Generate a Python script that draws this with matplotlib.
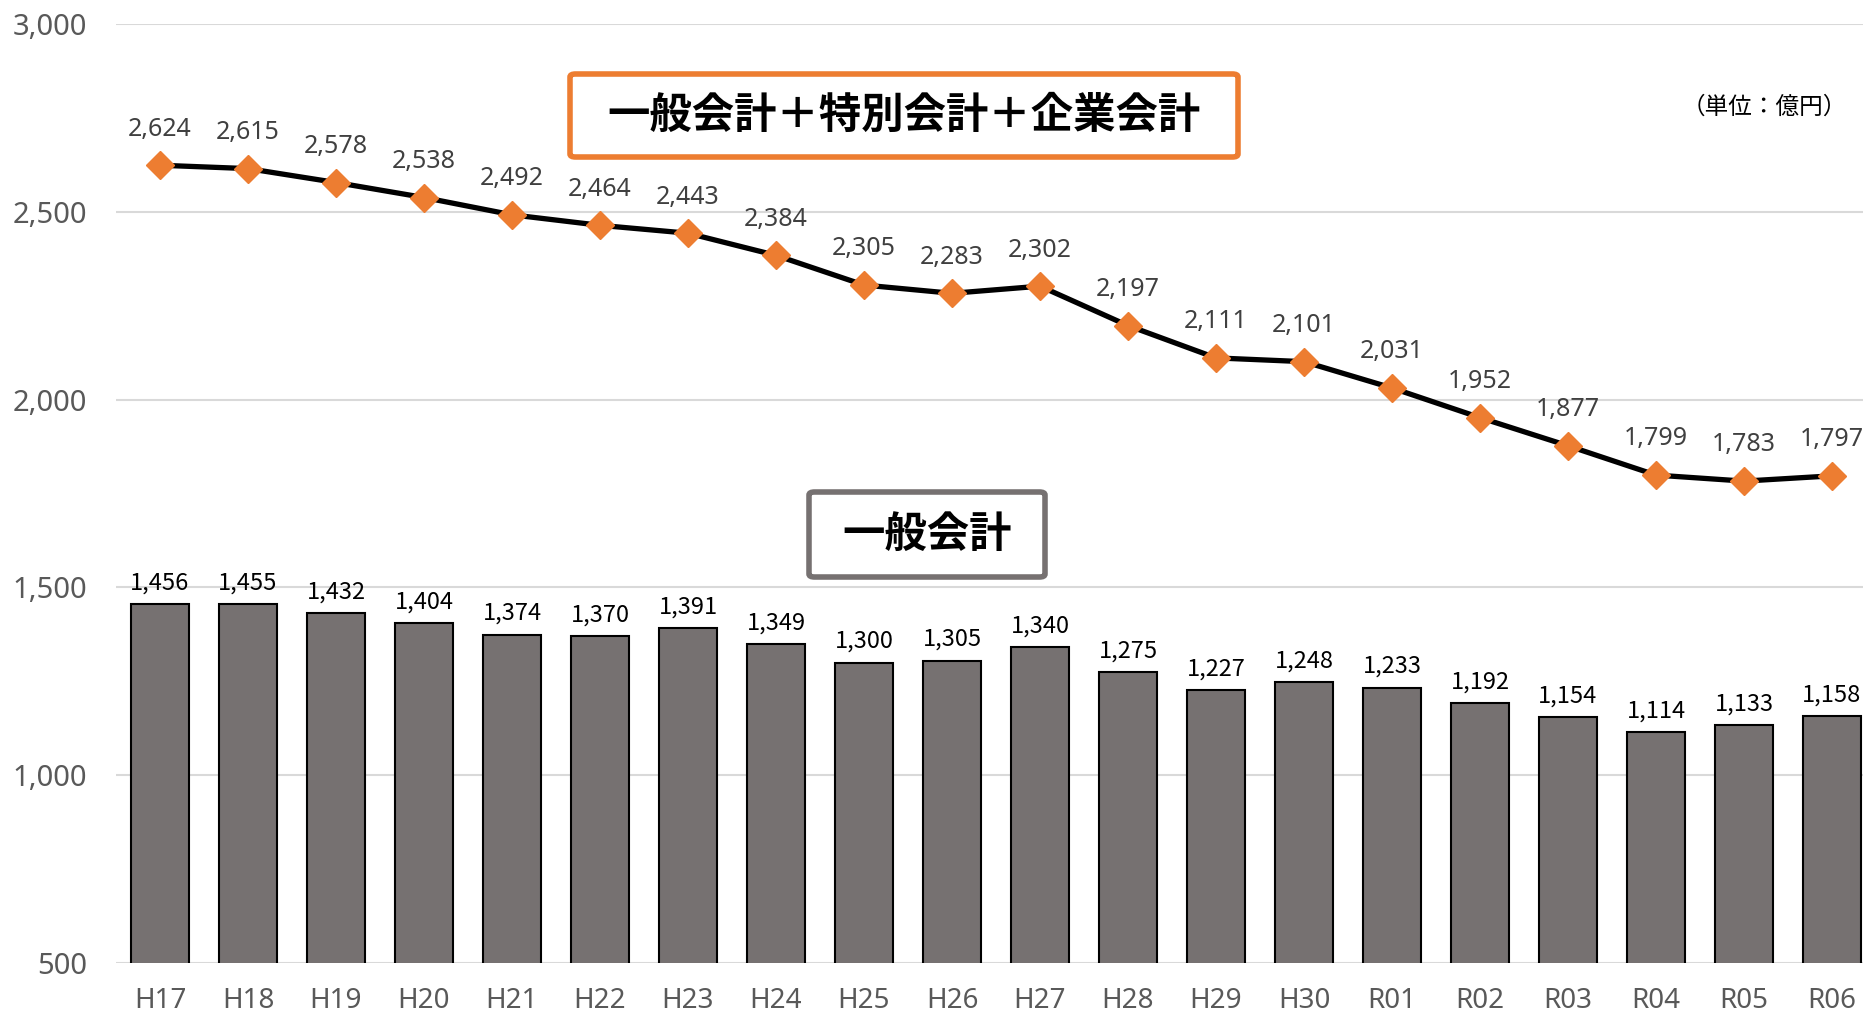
import matplotlib
matplotlib.use("Agg")
import matplotlib.pyplot as plt
from matplotlib.patches import FancyBboxPatch
import numpy as np

# データ
年度 = ["H17", "H18", "H19", "H20", "H21", "H22", "H23", "H24", "H25", "H26",
      "H27", "H28", "H29", "H30", "R01", "R02", "R03", "R04", "R05", "R06"]
一般会計 = [1456, 1455, 1432, 1404, 1374, 1370, 1391, 1349, 1300, 1305,
        1340, 1275, 1227, 1248, 1233, 1192, 1154, 1114, 1133, 1158]
合計 = [2624, 2615, 2578, 2538, 2492, 2464, 2443, 2384, 2305, 2283,
      2302, 2197, 2111, 2101, 2031, 1952, 1877, 1799, 1783, 1797]
y目盛 = [500, 1000, 1500, 2000, 2500, 3000]

plt.rcParams['font.family'] = ['Noto Sans', 'Noto Sans CJK JP', 'DejaVu Sans']

fig = plt.figure(figsize=(18.63, 10.18), dpi=100)
ax = fig.add_axes([116 / 1863, 55 / 1018, 1760 / 1863, 939 / 1018])

x = np.arange(len(年度))

# 棒グラフ（一般会計）
ax.bar(x, 一般会計, width=0.66, color="#767171", edgecolor="black", linewidth=1.5, zorder=2)
for xi, v in zip(x, 一般会計):
    ax.annotate(f"{v:,}", (xi, v), xytext=(0, 7), textcoords="offset points",
                ha="center", va="bottom", fontsize=17, color="black",
                family=['Noto Sans CJK JP', 'DejaVu Sans'], zorder=4)

# 折れ線（一般会計＋特別会計＋企業会計）
ax.plot(x, 合計, color="black", linewidth=3.8, marker="D", markersize=14,
        markerfacecolor="#ED7D31", markeredgecolor="#ED7D31", zorder=3)
for xi, v in zip(x, 合計):
    ax.annotate(f"{v:,}", (xi, v), xytext=(0, 17), textcoords="offset points",
                ha="center", va="bottom", fontsize=18, color="#404040", zorder=4)

ax.set_xlim(-0.5, len(年度) - 0.5)
ax.set_ylim(500, 3000)
ax.set_yticks(y目盛)
ax.set_yticklabels([f"{v:,}" for v in y目盛])
ax.set_xticks(x)
ax.set_xticklabels(年度)
ax.tick_params(axis="y", length=0, pad=21, labelsize=21, labelcolor="#595959")
ax.tick_params(axis="x", length=0, pad=17, labelsize=20, labelcolor="#595959")
ax.grid(axis="y", color="#D9D9D9", linewidth=1.5, zorder=0)
ax.set_axisbelow(True)
for s in ax.spines.values():
    s.set_visible(False)

# タイトル枠
def 枠(x0, y0, x1, y1, color, text):
    W, H = 1863, 1018
    p = FancyBboxPatch((x0 / W, 1 - y1 / H), (x1 - x0) / W, (y1 - y0) / H,
                       boxstyle="round,pad=0,rounding_size=0.003",
                       transform=fig.transFigure, facecolor="white",
                       edgecolor=color, linewidth=4, zorder=5)
    fig.patches.append(p)
    fig.text((x0 + x1) / 2 / W, 1 - (y0 + y1) / 2 / H, text, ha="center", va="center",
             fontsize=30.5, fontweight="bold", color="black",
             family=['Noto Sans CJK JP', 'DejaVu Sans'], zorder=6)

枠(570, 74, 1238, 157, "#ED7D31", "一般会計＋特別会計＋企業会計")
枠(809, 492, 1045, 577, "#767171", "一般会計")

fig.text(1847 / 1863, 1 - 107 / 1018, "（単位：億円）", ha="right", va="center",
         fontsize=17, color="black", family=['Noto Sans CJK JP', 'DejaVu Sans'])

fig.savefig("out.png", dpi=100, facecolor="white")
